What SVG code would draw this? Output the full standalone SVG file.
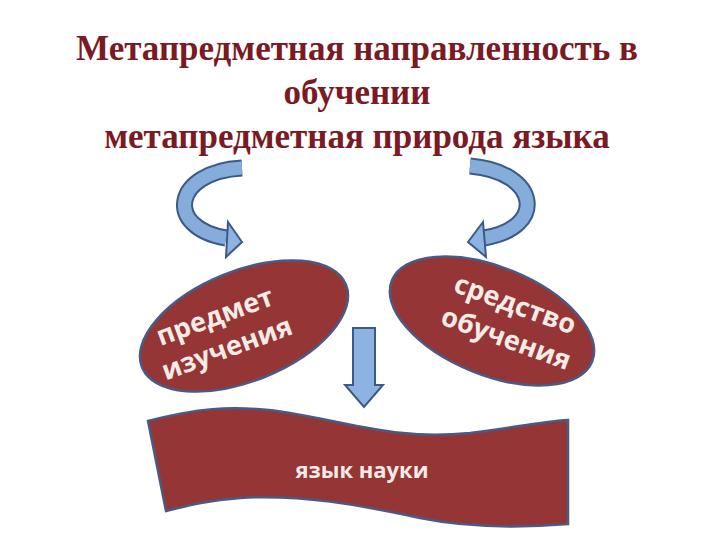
<svg xmlns="http://www.w3.org/2000/svg" width="720" height="540" viewBox="0 0 720 540">
<style>
.t{font-family:"Liberation Serif",serif;font-weight:bold;font-size:35px;fill:#7a1a24;text-anchor:middle}
.w{font-family:"Open Sans","DejaVu Sans",sans-serif;font-weight:bold;fill:#f6ebe6;text-anchor:middle}
.red{fill:#953535;stroke:#4a5a85;stroke-width:2.5}
.blu{fill:#8db3e2;stroke:#3b5a85;stroke-width:2}
</style>
<rect width="720" height="540" fill="#fff"/>
<g id="title">
<text class="t" x="357" y="60">Метапредметная направленность в</text>
<text class="t" x="357" y="104">обучении</text>
<text class="t" x="357" y="148">метапредметная природа  языка</text>
</g>
<g id="connectors">
<path d="M242,168 C172,172 165,228 226,238" fill="none" stroke="#3b5a85" stroke-width="17"/>
<path d="M242,168 C172,172 165,228 226,238" fill="none" stroke="#86acdc" stroke-width="13"/>
<polygon class="blu" points="228,222 242,242 226,257"/>
<path d="M470,166 C540,172 547,228 484,238" fill="none" stroke="#3b5a85" stroke-width="17"/>
<path d="M470,166 C540,172 547,228 484,238" fill="none" stroke="#86acdc" stroke-width="13"/>
<polygon class="blu" points="483,222 468,242 486,257"/>
<polygon class="blu" points="353,328 375,328 375,385 383,385 364,407 345,385 353,385"/>
</g>
<g id="left">
<ellipse class="red" cx="244" cy="326" rx="110" ry="55" transform="rotate(-22 244 326)"/>
<text class="w" font-size="27" transform="translate(218,325) rotate(-20)">предмет</text>
<text class="w" font-size="27" transform="translate(230,357) rotate(-20)">изучения</text>
</g>
<g id="right">
<ellipse class="red" cx="492" cy="321" rx="108" ry="54" transform="rotate(22 492 321)"/>
<text class="w" font-size="27" transform="translate(512,313) rotate(20)">средство</text>
<text class="w" font-size="27" transform="translate(503,347) rotate(20)">обучения</text>
</g>
<g id="banner">
<path class="red" d="M148,421 C190,410 230,403 290,413 C360,425 400,440 470,433 C510,428 540,422 568,420 L568,524 C520,528 470,528 420,518 C360,505 300,494 240,498 C210,500 190,505 166,511 Z"/>
<text class="w" font-size="22" x="362" y="478">язык науки</text>
</g>
</svg>
